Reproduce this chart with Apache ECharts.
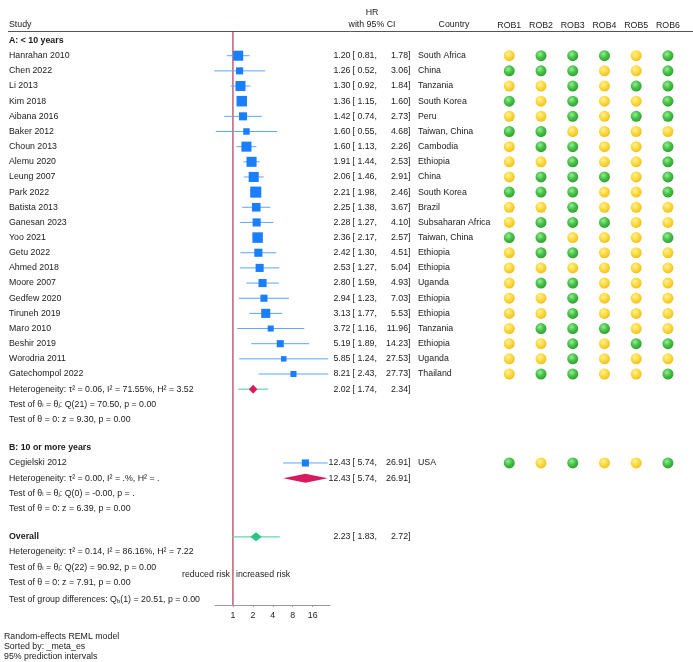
<!DOCTYPE html>
<html lang="en">
<head>
<meta charset="utf-8">
<title>Forest plot</title>
<script src="https://cdn.jsdelivr.net/npm/echarts@6/dist/echarts.min.js"></script>
<style>
    html, body { margin: 0; padding: 0; background: #fff; }
    #chart { width: 693px; height: 662px; }
</style>
</head>
<body>
<div id="chart"></div>
<script type="text/javascript">
// ---- data ----
var studies = ['Hanrahan 2010', 'Chen 2022', 'Li 2013', 'Kim 2018', 'Aibana 2016', 'Baker 2012',
    'Choun 2013', 'Alemu 2020', 'Leung 2007', 'Park 2022', 'Batista 2013', 'Ganesan 2023',
    'Yoo 2021', 'Getu 2022', 'Ahmed 2018', 'Moore 2007', 'Gedfew 2020', 'Tiruneh 2019',
    'Maro 2010', 'Beshir 2019', 'Worodria 2011', 'Gatechompol 2022', 'Cegielski 2012'];
var groups = ['A', 'A', 'A', 'A', 'A', 'A', 'A', 'A', 'A', 'A', 'A', 'A',
    'A', 'A', 'A', 'A', 'A', 'A', 'A', 'A', 'A', 'A', 'B'];
var hr = [1.20, 1.26, 1.30, 1.36, 1.42, 1.60, 1.60, 1.91, 2.06, 2.21, 2.25, 2.28,
    2.36, 2.42, 2.53, 2.80, 2.94, 3.13, 3.72, 5.19, 5.85, 8.21, 12.43];
var lower = [0.81, 0.52, 0.92, 1.15, 0.74, 0.55, 1.13, 1.44, 1.46, 1.98, 1.38, 1.27,
    2.17, 1.30, 1.27, 1.59, 1.23, 1.77, 1.16, 1.89, 1.24, 2.43, 5.74];
var upper = [1.78, 3.06, 1.84, 1.60, 2.73, 4.68, 2.26, 2.53, 2.91, 2.46, 3.67, 4.10,
    2.57, 4.51, 5.04, 4.93, 7.03, 5.53, 11.96, 14.23, 27.53, 27.73, 26.91];
// approximate study weights (%), judged from the square sizes
var weight = [6.0, 3.0, 6.0, 6.6, 3.9, 2.5, 6.0, 6.0, 6.0, 7.3, 4.4, 3.9,
    6.6, 3.9, 3.9, 3.9, 3.0, 4.9, 2.2, 3.0, 1.8, 2.2, 3.0];
var country = ['South Africa', 'China', 'Tanzania', 'South Korea', 'Peru', 'Taiwan, China',
    'Cambodia', 'Ethiopia', 'China', 'South Korea', 'Brazil', 'Subsaharan Africa',
    'Taiwan, China', 'Ethiopia', 'Ethiopia', 'Uganda', 'Ethiopia', 'Ethiopia',
    'Tanzania', 'Ethiopia', 'Uganda', 'Thailand', 'USA'];
// G = green (low risk), Y = yellow (some concerns), ROB1..ROB6
var rob = ['YGGGYG', 'GGGYYG', 'YYGYGG', 'GYGYYG', 'YYGYGG', 'GGYYYY',
    'YGGYYG', 'YYGYYG', 'YGGGYG', 'GGGYYG', 'YYGYYY', 'YGGGYY',
    'GGYYYG', 'YGGYYY', 'YYYYYY', 'YGGYYY', 'YYGYYY', 'YYGYYY',
    'YGGGYY', 'YYGYGG', 'YYGYYY', 'YGGYYG', 'GYGYYG'];
var robLabels = ['ROB1', 'ROB2', 'ROB3', 'ROB4', 'ROB5', 'ROB6'];

// subgroup A, subgroup B, overall
var summaryHR = [2.02, 12.43, 2.23];
var summaryLo = [1.74, 5.74, 1.83];
var summaryHi = [2.34, 26.91, 2.72];
var predLo = [1.20, null, 0.99];
var predHi = [3.42, null, 5.10];

var statsA = ['Heterogeneity: τ² = 0.06, I² = 71.55%, H² = 3.52',
    'Test of θ{s|i} = θ{s|j}: Q(21) = 70.50, p = 0.00',
    'Test of θ = 0: z = 9.30, p = 0.00'];
var statsB = ['Heterogeneity: τ² = 0.00, I² = .%, H² = .',
    'Test of θ{s|i} = θ{s|j}: Q(0) = -0.00, p = .',
    'Test of θ = 0: z = 6.39, p = 0.00'];
var statsAll = ['Heterogeneity: τ² = 0.14, I² = 86.16%, H² = 7.22',
    'Test of θ{s|i} = θ{s|j}: Q(22) = 90.92, p = 0.00',
    'Test of θ = 0: z = 7.91, p = 0.00'];
var groupDiff = 'Test of group differences: Q{s|b}(1) = 20.51, p = 0.00';
var tickValues = [1, 2, 4, 8, 16];
var noEffect = 1;
var footer = ['Random-effects REML model', 'Sorted by: _meta_es', '95% prediction intervals'];

// ---- row layout ----
var GAP = 1.87;
var r = 0;
var rowHeadA = r;
var studyRow = [];
studies.forEach(function (s, i) { if (groups[i] === 'A') studyRow[i] = ++r; });
var rowSumA = ++r;
var rowStatsA = [rowSumA, ++r, ++r];
r += GAP;
var rowHeadB = r;
studies.forEach(function (s, i) { if (groups[i] === 'B') studyRow[i] = ++r; });
var rowSumB = ++r;
var rowStatsB = [rowSumB, ++r, ++r];
r += GAP;
var rowAll = r;
var rowStatsAll = [++r, ++r, ++r];
var rowDiff = r + 1.15;
var rowRisk = r - 0.48;
var summaryRow = [rowSumA, rowSumB, rowAll];

var FONT = "'Liberation Sans', Arial, Helvetica, sans-serif";
var FS = 8.8;
var YMIN = -0.63, YMAX = 37.24;

var log2 = function (v) { return Math.log(v) / Math.LN2; };

var studyData = studies.map(function (s, i) {
    return [log2(hr[i]), log2(lower[i]), log2(upper[i]), studyRow[i], weight[i]];
});
var summaryData = summaryHR.map(function (v, i) {
    return [log2(v), log2(summaryLo[i]), log2(summaryHi[i]), summaryRow[i],
        predLo[i] ? log2(predLo[i]) : NaN, predHi[i] ? log2(predHi[i]) : NaN, i];
});

var robGreen = [], robYellow = [];
rob.forEach(function (code, i) {
    code.split('').forEach(function (c, j) {
        (c === 'G' ? robGreen : robYellow).push([robLabels[j], studyRow[i]]);
    });
});

function ball(light, mid, dark) {
    return new echarts.graphic.RadialGradient(0.4, 0.35, 0.65, [
        { offset: 0, color: light }, { offset: 0.55, color: mid }, { offset: 1, color: dark }
    ]);
}

var dom = document.getElementById('chart');
var myChart = echarts.init(dom, null, { renderer: 'canvas' });

var option = {
    animation: false,
    textStyle: { fontFamily: FONT },
    grid: [
        { left: 215, width: 115, top: 31, height: 574 },
        { left: 493.4, width: 190.4, top: 31, height: 574 }
    ],
    xAxis: [
        {
            gridIndex: 0, type: 'value', min: -0.9, max: 4.87, position: 'bottom',
            axisLine: { onZero: false, lineStyle: { color: '#999', width: 1 } },
            axisTick: { customValues: [0, 1, 2, 3, 4], length: 2, lineStyle: { color: '#999' } },
            axisLabel: {
                customValues: tickValues.map(log2), margin: 6,
                fontSize: FS, color: '#222', fontFamily: FONT,
                formatter: function (v) { return String(Math.round(Math.pow(2, v))); }
            },
            splitLine: { show: false }
        },
        {
            gridIndex: 1, type: 'category', data: robLabels, position: 'top',
            axisLine: { show: false, onZero: false }, axisTick: { show: false },
            axisLabel: { margin: 1, fontSize: FS, color: '#222', fontFamily: FONT },
            splitLine: { show: false }
        }
    ],
    yAxis: [
        { gridIndex: 0, type: 'value', min: YMIN, max: YMAX, inverse: true, show: false },
        { gridIndex: 1, type: 'value', min: YMIN, max: YMAX, inverse: true, show: false }
    ],
    series: [
        {
            name: 'no effect', type: 'line', xAxisIndex: 0, yAxisIndex: 0,
            data: [[log2(noEffect), YMIN], [log2(noEffect), YMAX]],
            symbol: 'none', silent: true,
            lineStyle: { color: '#b51f4a', width: 1.1 }, z: 2
        },
        {
            name: 'studies', type: 'custom', xAxisIndex: 0, yAxisIndex: 0,
            data: studyData, encode: { x: [0, 1, 2], y: 3 },
            renderItem: function (params, api) {
                var lo = api.coord([api.value(1), api.value(3)]);
                var hi = api.coord([api.value(2), api.value(3)]);
                var c = api.coord([api.value(0), api.value(3)]);
                var s = 4.1 * Math.sqrt(api.value(4));
                return {
                    type: 'group', children: [
                        { type: 'line', shape: { x1: lo[0], y1: lo[1], x2: hi[0], y2: hi[1] },
                          style: { stroke: '#5ba6ff', lineWidth: 1 } },
                        { type: 'rect', shape: { x: c[0] - s / 2, y: c[1] - s / 2, width: s, height: s },
                          style: { fill: '#1a7ffe' } }
                    ]
                };
            },
            z: 3
        },
        {
            name: 'summaries', type: 'custom', xAxisIndex: 0, yAxisIndex: 0,
            data: summaryData, encode: { x: [0, 1, 2], y: 3 },
            renderItem: function (params, api) {
                var y = api.value(3);
                var lo = api.coord([api.value(1), y]);
                var hi = api.coord([api.value(2), y]);
                var c = api.coord([api.value(0), y]);
                var overall = api.value(6) === 2;
                var h = 4.5;
                var kids = [];
                if (!isNaN(api.value(4))) {
                    var p1 = api.coord([api.value(4), y]);
                    var p2 = api.coord([api.value(5), y]);
                    kids.push({ type: 'line', shape: { x1: p1[0], y1: p1[1], x2: p2[0], y2: p2[1] },
                        style: { stroke: '#62d8a8', lineWidth: 1.2 } });
                }
                kids.push({ type: 'polygon',
                    shape: { points: [[lo[0], c[1]], [c[0], c[1] - h], [hi[0], c[1]], [c[0], c[1] + h]] },
                    style: { fill: overall ? '#27c688' : '#d81b60' } });
                return { type: 'group', children: kids };
            },
            z: 4
        },
        {
            name: 'low risk', type: 'scatter', xAxisIndex: 1, yAxisIndex: 1,
            data: robGreen, symbolSize: 11,
            itemStyle: { color: ball('#7ee87e', '#14b414', '#068506') }
        },
        {
            name: 'some concerns', type: 'scatter', xAxisIndex: 1, yAxisIndex: 1,
            data: robYellow, symbolSize: 11,
            itemStyle: { color: ball('#ffee90', '#ffd000', '#e8b000') }
        }
    ]
};
myChart.setOption(option);

// ---- text columns, placed on the same row scale ----
var rowY = function (row) { return myChart.convertToPixel({ yAxisIndex: 0 }, row); };
var xOne = myChart.convertToPixel({ xAxisIndex: 0 }, log2(noEffect));
var rich = { s: { fontSize: 6, verticalAlign: 'bottom', fontFamily: FONT, fill: '#1a1a1a' } };
var texts = [];
function txt(x, y, s, align, bold) {
    texts.push({
        type: 'text', x: x, y: y, silent: true,
        style: {
            text: s, fill: '#1a1a1a', font: (bold ? 'bold ' : '') + FS + 'px ' + FONT,
            align: align || 'left', verticalAlign: 'middle', rich: rich
        }
    });
}
function ciText(y, est, lo, hi) {
    txt(350.5, y, est.toFixed(2), 'right');
    txt(352.5, y, '[ ' + lo.toFixed(2) + ',', 'left');
    txt(410.5, y, hi.toFixed(2) + ']', 'right');
}

// header
txt(9, 25, 'Study');
txt(372, 13, 'HR', 'center');
txt(372, 25, 'with 95% CI', 'center');
txt(454, 25, 'Country', 'center');
texts.push({ type: 'line', silent: true, shape: { x1: 8, y1: 31.5, x2: 693, y2: 31.5 },
    style: { stroke: '#555', lineWidth: 1 } });

txt(9, rowY(rowHeadA), 'A: < 10 years', 'left', true);
txt(9, rowY(rowHeadB), 'B: 10 or more years', 'left', true);
txt(9, rowY(rowAll), 'Overall', 'left', true);
studies.forEach(function (s, i) {
    var y = rowY(studyRow[i]);
    txt(9, y, s);
    ciText(y, hr[i], lower[i], upper[i]);
    txt(418, y, country[i]);
});
summaryHR.forEach(function (v, i) {
    ciText(rowY(summaryRow[i]), v, summaryLo[i], summaryHi[i]);
});
statsA.forEach(function (s, i) { txt(9, rowY(rowStatsA[i]), s); });
statsB.forEach(function (s, i) { txt(9, rowY(rowStatsB[i]), s); });
statsAll.forEach(function (s, i) { txt(9, rowY(rowStatsAll[i]), s); });
txt(9, rowY(rowDiff), groupDiff);
txt(xOne - 3, rowY(rowRisk), 'reduced risk', 'right');
txt(xOne + 3, rowY(rowRisk), 'increased risk', 'left');
footer.forEach(function (s, i) { txt(4, 637 + i * 9.8, s); });

myChart.setOption({ graphic: texts });
</script>
</body>
</html>
